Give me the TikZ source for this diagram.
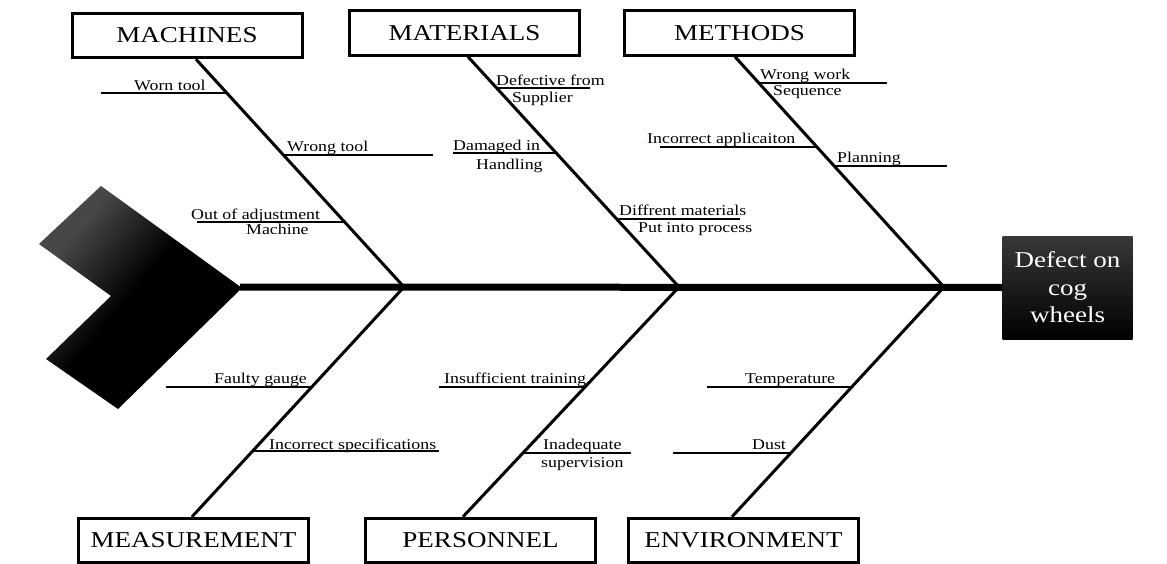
\documentclass[tikz,border=0pt]{standalone}
\usepackage{fontspec}
\setmainfont{Liberation Serif}[FakeStretch=1.19]
\usetikzlibrary{calc}
\pgfdeclareverticalshading{tailshade}{100bp}{color(0bp)=(black); color(52bp)=(black); color(72bp)=(black!72); color(100bp)=(black!72)}
\tikzset{
  catbox/.style={draw, line width=3pt, minimum width=230pt, minimum height=44.5pt, inner sep=0pt, font=\fontsize{22.7}{27}\selectfont},
  bone/.style={line width=3pt},
  twig/.style={line width=2pt},
  spine/.style={line width=7pt},
  lbl/.style={inner sep=0pt, anchor=base west, font=\fontsize{15}{17}\selectfont},
  headbox/.style={minimum width=130pt, minimum height=103pt, inner sep=0pt, top color=black!78, bottom color=black, text=white, align=center, font=\fontsize{22.7}{27.5}\selectfont}
}
\begin{document}
\begin{tikzpicture}[x=1pt,y=-1pt]
\useasboundingbox (0,0) rectangle (1167,564);
% tail
\shade[shading=tailshade, shading angle=50]
  (101,186) -- (242,288) -- (118,409) -- (46,359) -- (111,296) -- (39,244) -- cycle;
\coordinate (tailtip) at (240,287);
% category boxes
\node[catbox] (machines) at (187,35.5) {MACHINES};
\node[catbox] (materials) at (464.5,33) {MATERIALS};
\node[catbox] (methods) at (739.5,33) {METHODS};
\node[catbox] (measurement) at (193.5,540.5) {MEASUREMENT};
\node[catbox] (personnel) at (480.5,540.5) {PERSONNEL};
\node[catbox] (environment) at (743.5,540.5) {ENVIRONMENT};
% head
\node[headbox] (head) at (1067.5,287.5) {Defect on\\cog\\wheels};
% spine
\draw[spine] (tailtip) -- (head.west);
\coordinate (j1) at (404,287);
\coordinate (j2) at (679,287);
\coordinate (j3) at (944,287);
% bone ends at boxes
\coordinate (ma) at ($(machines.south)+(9,0)$);
\coordinate (mt) at ($(materials.south)+(3.5,0)$);
\coordinate (me) at ($(methods.south)+(-4.5,0)$);
\coordinate (ms) at ($(measurement.north)+(-1.5,0)$);
\coordinate (ps) at ($(personnel.north)+(-17.5,0)$);
\coordinate (en) at ($(environment.north)+(-11.5,0)$);
% bones
\draw[bone] (ma) -- (j1);
\draw[bone] (mt) -- (j2);
\draw[bone] (me) -- (j3);
\draw[bone] (j1) -- (ms);
\draw[bone] (j2) -- (ps);
\draw[bone] (j3) -- (en);
% points on bones
\coordinate (ma1) at ($(ma)!0.148!(j1)$);
\coordinate (ma2) at ($(ma)!0.420!(j1)$);
\coordinate (ma3) at ($(ma)!0.715!(j1)$);
\coordinate (mt1) at ($(mt)!0.136!(j2)$);
\coordinate (mt2) at ($(mt)!0.419!(j2)$);
\coordinate (mt3) at ($(mt)!0.705!(j2)$);
\coordinate (me1) at ($(me)!0.114!(j3)$);
\coordinate (me2) at ($(me)!0.392!(j3)$);
\coordinate (me3) at ($(me)!0.474!(j3)$);
\coordinate (ms1) at ($(j1)!0.435!(ms)$);
\coordinate (ms2) at ($(j1)!0.714!(ms)$);
\coordinate (ps1) at ($(j2)!0.435!(ps)$);
\coordinate (ps2) at ($(j2)!0.722!(ps)$);
\coordinate (en1) at ($(j3)!0.435!(en)$);
\coordinate (en2) at ($(j3)!0.722!(en)$);
% free ends
\coordinate (fma1) at (101,0);
\coordinate (fma2) at (433,0);
\coordinate (fma3) at (197,0);
\coordinate (fmt1) at (590,0);
\coordinate (fmt2) at (453,0);
\coordinate (fmt3) at (740,0);
\coordinate (fme1) at (887,0);
\coordinate (fme2) at (660,0);
\coordinate (fme3) at (947,0);
\coordinate (fms1) at (166,0);
\coordinate (fms2) at (439,0);
\coordinate (fps1) at (439,0);
\coordinate (fps2) at (631,0);
\coordinate (fen1) at (707,0);
\coordinate (fen2) at (673,0);
% twigs
\foreach \p in {ma1,ma2,ma3,mt1,mt2,mt3,me1,me2,me3,ms1,ms2,ps1,ps2,en1,en2}
  \draw[twig] (\p) -- (\p -| f\p);
% labels
\node[lbl] (t1) at (134,91) {Worn tool};
\node[lbl] (t2) at (287,152) {Wrong tool};
\node[lbl] (t3a) at (191,219) {Out of adjustment};
\node[lbl] (t3b) at (246,235) {Machine};
\node[lbl] (t4a) at (496,86) {Defective from};
\node[lbl] (t4b) at (512,103) {Supplier};
\node[lbl] (t5a) at (453,151) {Damaged in};
\node[lbl] (t5b) at (476,170) {Handling};
\node[lbl] (t6a) at (619,216) {Diffrent materials};
\node[lbl] (t6b) at (638,233) {Put into process};
\node[lbl] (t7a) at (760,80) {Wrong work};
\node[lbl] (t7b) at (773,96) {Sequence};
\node[lbl] (t8) at (647,144) {Incorrect applicaiton};
\node[lbl] (t9) at (837,163) {Planning};
\node[lbl] (t10) at (214,383) {Faulty gauge};
\node[lbl] (t11) at (269,449) {Incorrect specifications};
\node[lbl] (t12) at (444,383) {Insufficient training};
\node[lbl] (t13a) at (543,449) {Inadequate};
\node[lbl] (t13b) at (541,467) {supervision};
\node[lbl] (t14) at (745,383) {Temperature};
\node[lbl] (t15) at (752,449) {Dust};
\end{tikzpicture}
\end{document}
